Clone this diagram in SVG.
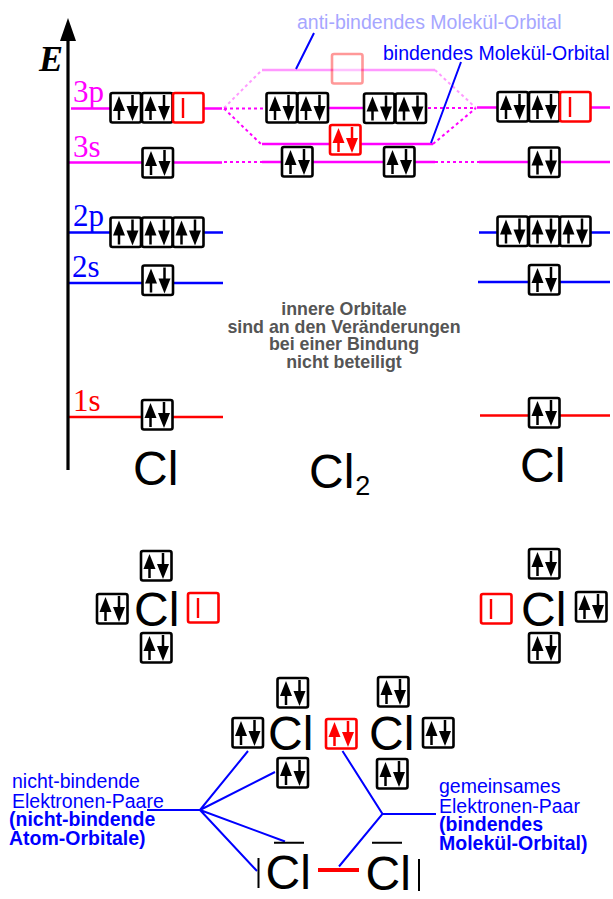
<svg xmlns="http://www.w3.org/2000/svg" width="613" height="899" viewBox="0 0 613 899">
<style>
.s{font-family:"Liberation Serif",serif;font-size:31px}
.c{font-family:"Liberation Sans",Arial,sans-serif;font-size:48px;fill:#000}
.l{font-family:"Liberation Sans",Arial,sans-serif;font-size:19.5px;fill:#0000ff}
.b{font-weight:bold}
.bx{fill:#fff;stroke:#000;stroke-width:2.6}
.rb{fill:#fff;stroke:#f00;stroke-width:2.6}
.m{stroke:#f0f;stroke-width:2.6;fill:none}
.d{stroke:#f0f;stroke-width:2;fill:none;stroke-dasharray:3 3}
.bl{stroke:#0000ff;stroke-width:2;fill:none}
.e{stroke:#00f;stroke-width:2.6;fill:none}
.r{stroke:#f00;stroke-width:2.4;fill:none}
</style>
<defs>
<g id="a"><path d="M8.500 27V16" stroke-width="2.500" stroke="currentColor"/><path d="M8.500 3L14.500 18H2.500Z" fill="currentColor"/><path d="M22 2V14" stroke-width="2.500" stroke="currentColor"/><path d="M22 28L16 13H28Z" fill="currentColor"/></g>
<g id="p"><rect class="bx" width="30.500" height="29.500" rx="2"/><use href="#a" color="#000"/></g>
<g id="q"><rect class="rb" width="30.500" height="29.500" rx="2"/><use href="#a" color="#f00"/></g>
<g id="h"><rect class="rb" width="30.500" height="29.500" rx="2"/><path d="M10 5V25" stroke="#f00" stroke-width="2.400"/></g>
</defs>
<g id="connectors">
<path class="m" d="M71 108.500H110M204 108.500H222M69 162.500H142M173 162.500H222"/>
<path class="m" d="M298 108H364M262 144H330M361 144H433M262 162H282M312 162H384M415 162H435"/>
<path class="m" d="M477 107.500H497M591 107.500H610M479 162H529M560 162H610"/>
<path class="d" d="M224 108.500H266M224 108.500L261 144M428 108H476M433 144L476 108M224 162H262M435 162H479"/>
<g opacity="0.4"><path class="m" d="M262 70H435"/><path class="d" stroke-width="1.500" d="M224 108L262 70M435 70L476 108"/></g>
<path class="e" d="M69 232.500H110M204 232.500H223M479 232.500H497M591 232.500H610M69 283H142M174 283H223M478 282H529M560 282H610"/>
<path class="r" d="M69 417H142M173 417H223M480 415.500H529M560 415.500H610"/>
<path class="bl" d="M296 69L314 33M431 143L461 62"/>
<path class="bl" d="M147 810H200L248 751M200 810L275 772M200 810L285 841.500M200 810L257 871"/>
<path class="bl" d="M342.500 751L382.500 814L339 866.500M382.500 814H436"/>
</g>
<g id="axis">
<path d="M68 470V30" stroke="#000" stroke-width="3.200" fill="none"/>
<path d="M68 18L76 41H60Z" fill="#000"/>
<text x="39" y="71" font-family="Liberation Serif,serif" font-size="36" font-weight="bold" font-style="italic">E</text>
</g>
<g id="levels">
<text class="s" x="73" y="102" fill="#f0f">3p</text>
<text class="s" x="73" y="157" fill="#f0f">3s</text>
<text class="s" x="73" y="226" fill="#00f">2p</text>
<text class="s" x="72" y="277" fill="#00f">2s</text>
<text class="s" x="73" y="411" fill="#f00">1s</text>
</g>
<g id="atom-left">
<use href="#p" x="110.500" y="93"/><use href="#p" x="142" y="93"/><use href="#h" x="173" y="93"/>
<use href="#p" x="142.500" y="148"/><use href="#p" x="110.500" y="217.500"/><use href="#p" x="142" y="217.500"/><use href="#p" x="173" y="217.500"/>
<use href="#p" x="142.500" y="265.500"/><use href="#p" x="142" y="400"/>
<text class="c" x="133" y="485">Cl</text>
</g>
<g id="molecule">
<use href="#p" x="266.500" y="93"/><use href="#p" x="297.500" y="93"/><use href="#p" x="364" y="93.500"/><use href="#p" x="395.500" y="93.500"/>
<use href="#p" x="282" y="147"/><use href="#p" x="384" y="147"/><use href="#q" x="330" y="125"/>
<rect class="rb" x="332" y="54" width="30.500" height="29.500" rx="2" opacity="0.4"/>
<text class="c" x="309" y="488">Cl<tspan font-size="27" dy="7" dx="1">2</tspan></text>
</g>
<g id="atom-right">
<use href="#p" x="497.500" y="92"/><use href="#p" x="529" y="92"/><use href="#h" x="560" y="92"/>
<use href="#p" x="529" y="147.500"/><use href="#p" x="497.500" y="216.500"/><use href="#p" x="529" y="216.500"/><use href="#p" x="560" y="216.500"/>
<use href="#p" x="529" y="265"/><use href="#p" x="529" y="398"/>
<text class="c" x="520" y="482">Cl</text>
</g>
<g id="lewis-left">
<use href="#p" x="141" y="551"/><use href="#p" x="97" y="594"/><use href="#h" x="188" y="593"/><use href="#p" x="141" y="633"/>
<text class="c" x="134" y="626">Cl</text>
</g>
<g id="lewis-right">
<use href="#p" x="529" y="549"/><use href="#h" x="481" y="594"/><use href="#p" x="576" y="592"/><use href="#p" x="529" y="633"/>
<text class="c" x="521" y="626">Cl</text>
</g>
<g id="lewis-molecule">
<use href="#p" x="277.500" y="678"/><use href="#p" x="232.500" y="718"/><use href="#p" x="277.500" y="758"/>
<use href="#q" x="326" y="719"/>
<use href="#p" x="378" y="677"/><use href="#p" x="423" y="718"/><use href="#p" x="377" y="759"/>
<text class="c" x="268" y="750">Cl</text>
<text class="c" x="369" y="750">Cl</text>
</g>
<g id="lewis-structure">
<text class="c" x="265.500" y="889">Cl</text>
<text class="c" x="365.500" y="890">Cl</text>
<path d="M274 842.700H304M372 842.700H402" stroke="#000" stroke-width="2" fill="none"/>
<path d="M258.500 858V888M419 859V891" stroke="#000" stroke-width="2" fill="none"/>
<path d="M318 870H359" stroke="#f00" stroke-width="4" fill="none"/>
</g>
<g id="labels">
<text class="l" x="297" y="29" style="fill:#a6a6ff">anti-bindendes Molekül-Orbital</text>
<text class="l" x="383" y="60">bindendes Molekül-Orbital</text>
<g font-family="Liberation Sans,Arial,sans-serif" font-size="17.800" font-weight="bold" fill="#555" text-anchor="middle">
<text x="344" y="315">innere Orbitale</text>
<text x="344" y="332.700">sind an den Veränderungen</text>
<text x="344" y="350">bei einer Bindung</text>
<text x="344" y="367.700">nicht beteiligt</text>
</g>
<text class="l" x="12" y="788">nicht-bindende</text>
<text class="l" x="12" y="808">Elektronen-Paare</text>
<text class="l b" x="9" y="826">(nicht-bindende</text>
<text class="l b" x="9" y="845">Atom-Orbitale)</text>
<text class="l" x="439" y="793">gemeinsames</text>
<text class="l" x="439" y="813">Elektronen-Paar</text>
<text class="l b" x="439" y="831">(bindendes</text>
<text class="l b" x="439" y="850">Molekül-Orbital)</text>
</g>
</svg>
